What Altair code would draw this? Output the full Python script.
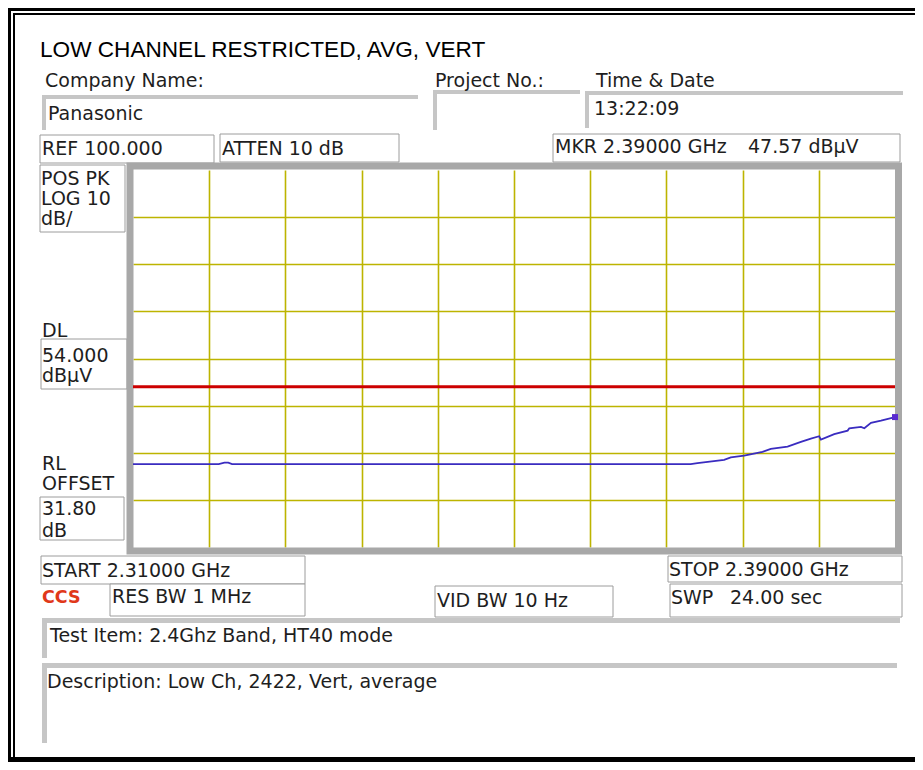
import altair as alt
import pandas as pd

# ---------------- data ----------------
freq_ghz = [2.3100, 2.3190, 2.3196, 2.3200, 2.3204, 2.36855, 2.36926, 2.37206,
            2.37276, 2.37416, 2.37609, 2.37696, 2.37872, 2.38012, 2.38117,
            2.38204, 2.38222, 2.38362, 2.38503, 2.38520, 2.38643, 2.38678,
            2.38748, 2.38853, 2.3900]
level_dbuv = [37.6, 37.6, 37.9, 37.9, 37.6, 37.6, 37.8, 38.5,
              39.0, 39.4, 40.2, 40.8, 41.3, 42.3, 43.0,
              43.5, 42.8, 43.95, 44.7, 45.2, 45.5, 45.2,
              46.35, 46.8, 47.57]
display_line = [54.0]
marker_freq = [2.39]
marker_level = [47.57]
x_grid = [2.318, 2.326, 2.334, 2.342, 2.350, 2.358, 2.366, 2.374, 2.382]
y_grid = [30, 40, 50, 60, 70, 80, 90]
x_domain = [2.31, 2.39]
y_domain = [20, 100]

# ---------------- annotation texts ----------------
label_text = ["Company Name:", "Panasonic", "Project No.:", "Time & Date", "13:22:09",
              "REF 100.000", "ATTEN 10 dB", "MKR 2.39000 GHz", "47.57 dBµV",
              "POS PK", "LOG 10", "dB/", "DL", "54.000", "dBµV", "RL", "OFFSET",
              "31.80", "dB", "START 2.31000 GHz", "RES BW 1 MHz", "VID BW 10 Hz",
              "STOP 2.39000 GHz", "SWP", "24.00 sec",
              "Test Item: 2.4Ghz Band, HT40 mode",
              "Description: Low Ch, 2422, Vert, average"]
title_text = ["LOW CHANNEL RESTRICTED, AVG, VERT"]
logo_text = ["CCS"]

# ---------------- layout (page pixel positions) ----------------
X0, Y0 = 133, 170  # plot-area origin on the page
label_x = [45, 48, 435, 596, 594, 42, 222, 555, 748, 41, 41, 41, 42, 42, 42, 42, 42,
           42, 42, 42, 112, 437, 669, 671, 730, 50, 47]
label_y = [87, 120, 87, 87, 115, 155, 155, 153, 153, 185, 205, 225, 337, 362, 382, 470, 490,
           515, 537, 577, 603, 607, 576, 604, 604, 642, 688]
title_xy = [(40, 57)]
logo_xy = [(42, 603)]

box_x1 = [40, 220, 553, 40, 41, 40, 41, 110, 435, 668, 670]
box_y1 = [135, 134, 134, 165, 339, 497, 556, 584, 586, 556, 584]
box_x2 = [214, 399, 900, 125, 127, 124, 305, 305, 613, 902, 902]
box_y2 = [163, 162, 162, 232, 389, 540, 584, 616, 617, 582, 617]

bevel_x1 = [42, 42, 433, 433, 585, 585, 42, 42, 42, 42]
bevel_y1 = [95, 95, 90, 90, 91, 91, 618, 618, 663, 663]
bevel_x2 = [418, 46, 580, 437, 903, 589, 900, 47, 897, 47]
bevel_y2 = [99, 130, 94, 130, 95, 128, 623, 658, 668, 743]

frame_x1 = [8, 13, 8, 13, 8]
frame_y1 = [8, 13, 8, 13, 757]
frame_x2 = [915, 915, 11, 15, 915]
frame_y2 = [11, 15, 762, 762, 762]


def px(xs, ys, xs2=None, ys2=None, **extra):
    d = {"x": [v - X0 for v in xs], "y": [v - Y0 for v in ys]}
    if xs2 is not None:
        d["x2"] = [v - X0 for v in xs2]
        d["y2"] = [v - Y0 for v in ys2]
    d.update(extra)
    return pd.DataFrame(d)


def rect_layer(df, **mark):
    return alt.Chart(df).mark_rect(**mark).encode(
        x=alt.X("x:Q", scale=None, axis=None),
        x2="x2:Q",
        y=alt.Y("y:Q", scale=None, axis=None),
        y2="y2:Q",
    )


def text_layer(df, **mark):
    return alt.Chart(df).mark_text(align="left", baseline="alphabetic", **mark).encode(
        x=alt.X("x:Q", scale=None, axis=None),
        y=alt.Y("y:Q", scale=None, axis=None),
        text="t:N",
    )


frame = rect_layer(px(frame_x1, frame_y1, frame_x2, frame_y2), color="black")
bevels = rect_layer(px(bevel_x1, bevel_y1, bevel_x2, bevel_y2), color="#c6c6c6")
boxes = rect_layer(px(box_x1, box_y1, box_x2, box_y2), fill="white",
                   stroke="#9c9c9c", strokeWidth=1)
plot_frame = alt.Chart(pd.DataFrame({"x": [130 - X0], "x2": [898.5 - X0],
                                     "y": [166 - Y0], "y2": [551 - Y0]})).mark_rect(
    fill="white", fillOpacity=0, stroke="#a8a8a8", strokeWidth=7).encode(
    x=alt.X("x:Q", scale=None, axis=None), x2="x2:Q",
    y=alt.Y("y:Q", scale=None, axis=None), y2="y2:Q")

labels = text_layer(px(label_x, label_y, t=label_text), font="DejaVu Sans",
                    fontSize=19, color="#1e1e1e")
title = text_layer(px([p[0] for p in title_xy], [p[1] for p in title_xy], t=title_text),
                   font="Liberation Sans", fontSize=22.6, color="black")
logo = text_layer(px([p[0] for p in logo_xy], [p[1] for p in logo_xy], t=logo_text),
                  font="DejaVu Sans", fontSize=17.5, fontWeight="bold", color="#e0381a")

xs = alt.Scale(domain=x_domain, nice=False, zero=False)
ys = alt.Scale(domain=y_domain, nice=False, zero=False)
grid_axis_x = alt.Axis(values=x_grid, grid=True, gridColor="#bdb400", gridWidth=1.6,
                       labels=False, ticks=False, domain=False, title=None)
grid_axis_y = alt.Axis(values=y_grid, grid=True, gridColor="#bdb400", gridWidth=1.6,
                       labels=False, ticks=False, domain=False, title=None)

trace_df = pd.DataFrame({"f": freq_ghz, "lvl": level_dbuv})
grid = alt.Chart(trace_df).mark_line(opacity=0).encode(
    x=alt.X("f:Q", scale=xs, axis=grid_axis_x),
    y=alt.Y("lvl:Q", scale=ys, axis=grid_axis_y),
)
dl = alt.Chart(pd.DataFrame({"lvl": display_line})).mark_rule(
    color="#cc0000", strokeWidth=3).encode(
    y=alt.Y("lvl:Q", scale=ys, axis=None))
trace = alt.Chart(trace_df).mark_line(color="#3a2cc0", strokeWidth=1.8).encode(
    x=alt.X("f:Q", scale=xs, axis=None),
    y=alt.Y("lvl:Q", scale=ys, axis=None),
)
marker = alt.Chart(pd.DataFrame({"f": marker_freq, "lvl": marker_level})).mark_point(
    shape="square", filled=True, size=36, color="#5a2ad0", opacity=1).encode(
    x=alt.X("f:Q", scale=xs, axis=None),
    y=alt.Y("lvl:Q", scale=ys, axis=None),
)

chart = alt.layer(
    frame, bevels, boxes, plot_frame, grid, dl, trace, marker, labels, title, logo
).resolve_scale(x="independent", y="independent").properties(
    width=762, height=377,
    padding={"left": 125, "top": 162, "right": 20, "bottom": 215},
    autosize=alt.AutoSizeParams(type="none"),
    background="white",
).configure_view(stroke=None)

chart.save("out.html", embed_options={"renderer": "svg", "actions": False})
